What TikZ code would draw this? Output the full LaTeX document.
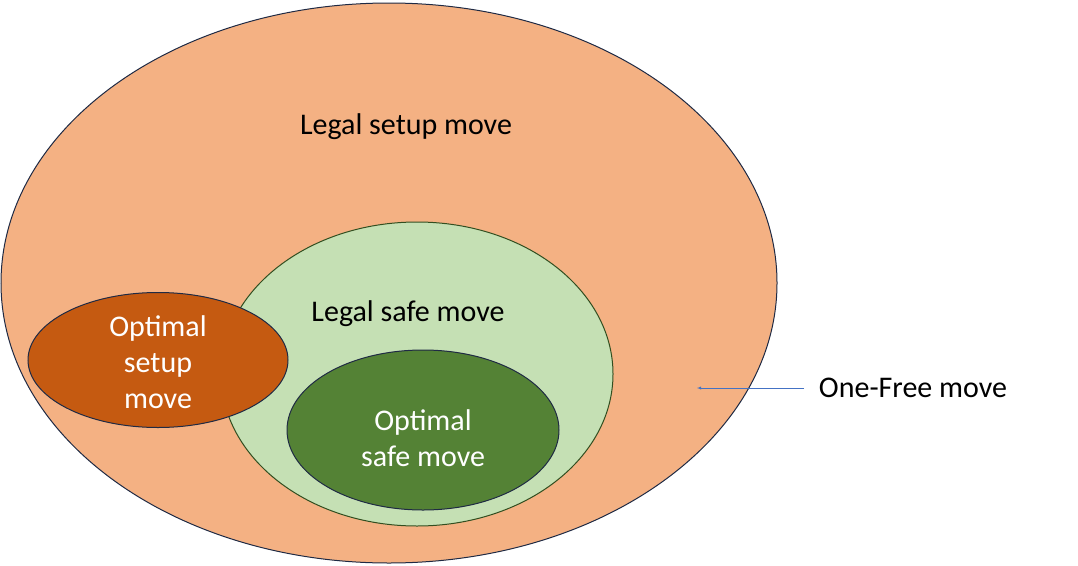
\documentclass[tikz,border=0pt]{standalone}
\usepackage{fontspec}
\setmainfont{Carlito}
\usetikzlibrary{shapes.geometric}
\definecolor{setupfill}{HTML}{F4B183}
\definecolor{safefill}{HTML}{C5E0B4}
\definecolor{optsafe}{HTML}{548235}
\definecolor{optsetup}{HTML}{C55A11}
\definecolor{rim}{HTML}{1F2A44}
\definecolor{pointer}{HTML}{4472C4}
\tikzset{
  set/.style={ellipse, draw=rim, line width=1pt, inner sep=0pt},
  lbl/.style={font=\fontsize{30}{36}\selectfont, align=center, inner sep=0.75pt}
}
\begin{document}
\begin{tikzpicture}[x=1pt,y=1pt,yscale=-1]
\useasboundingbox (0,0) rectangle (1078,565);
% sets
\node[set, fill=setupfill, minimum width=776, minimum height=560] (setup) at (389,283) {};
\node[set, draw=optsafe!60!black, fill=safefill, minimum width=392, minimum height=304] (safe) at (417,374) {};
\node[set, fill=optsafe, minimum width=272, minimum height=160] (optsafe) at (423,430) {};
\node[set, fill=optsetup, minimum width=260, minimum height=135] (optsetup) at (158,360) {};
% labels
\node[lbl] (tsetup) at (406,127) {Legal setup move};
\node[lbl] (tsafe) at (408,314) {Legal safe move};
\node[lbl, text=white] (toptsafe) at (423,438) {Optimal\\safe move};
\node[lbl, text=white] (toptsetup) at (158,362) {Optimal\\setup\\move};
\node[lbl, anchor=west] (tfree) at (818,388) {One-Free move};
% pointer
\coordinate (tip) at (697,388);
\draw[pointer, -latex] (tfree.west) ++(-14,0) -- (tip);
\end{tikzpicture}
\end{document}
